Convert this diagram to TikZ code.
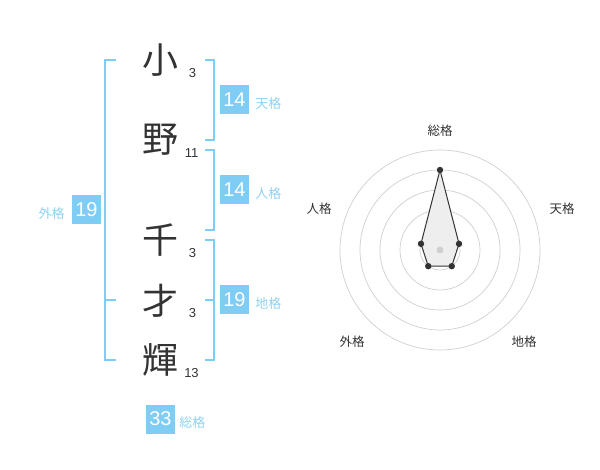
\documentclass[tikz,border=0pt]{standalone}
\usepackage{fontspec}
\setmainfont{Liberation Sans}
\newfontfamily\jpfont{Noto Sans CJK JP}
\usetikzlibrary{positioning}
\definecolor{kakublue}{HTML}{7FCCF5}
\definecolor{kakulabel}{HTML}{8ED2F3}
\definecolor{kanjigray}{HTML}{333333}
\definecolor{ringgray}{HTML}{CFCFCF}
\definecolor{areagray}{HTML}{EEEEEE}

\tikzset{
  kanji/.style={font=\jpfont\fontsize{36}{36}\selectfont, text=kanjigray, inner sep=0pt},
  strokes/.style={font=\fontsize{13}{13}\selectfont, text=kanjigray, inner sep=0pt},
  kakubox/.style={fill=kakublue, text=white, minimum size=29pt, inner sep=0pt, font=\fontsize{20}{20}\selectfont},
  kakuname/.style={font=\jpfont\fontsize{13}{13}\selectfont, text=kakulabel, inner sep=0pt},
  bracket/.style={draw=kakublue, line width=2pt},
  axisname/.style={font=\jpfont\fontsize{12.5}{12.5}\selectfont, text=kanjigray, inner sep=0pt},
}

\begin{document}
\begin{tikzpicture}[x=1pt, y=-1pt]
	\useasboundingbox (0,0) rectangle (600,470);
	% name
	\node[kanji] (ko) at (160,60) {小};
	\node[kanji] (no) at (160,140) {野};
	\node[kanji] (chi) at (160,240) {千};
	\node[kanji] (sai) at (160,301) {才};
	\node[kanji] (ki) at (160,360) {輝};
	\node[strokes] (ko-n) at (192.5,73) {3};
	\node[strokes] (no-n) at (191.5,153) {11};
	\node[strokes] (chi-n) at (192.5,253) {3};
	\node[strokes] (sai-n) at (192.5,313) {3};
	\node[strokes] (ki-n) at (191.5,373) {13};
	% brackets
	\draw[bracket] (205,60) -- (214,60) -- (214,140) -- (205,140);
	\draw[bracket] (205,150) -- (214,150) -- (214,230) -- (205,230);
	\draw[bracket] (205,240) -- (214,240) -- (214,360) -- (205,360);
	\draw[bracket] (205,300) -- (214,300);
	\draw[bracket] (116,60) -- (105,60) -- (105,360) -- (116,360);
	\draw[bracket] (105,300) -- (116,300);
	% scores
	\node[kakubox] (ten) at (234.5,100) {14};
	\node[kakubox] (jin) at (234.5,190) {14};
	\node[kakubox] (chik) at (234.5,300) {19};
	\node[kakubox] (gai) at (86.5,210) {19};
	\node[kakubox] (sou) at (160.5,419) {33};
	\node[kakuname, right=6pt of ten, yshift=-3.5pt] (ten-l) {天格};
	\node[kakuname, right=6pt of jin, yshift=-3.5pt] (jin-l) {人格};
	\node[kakuname, right=6pt of chik, yshift=-3.5pt] (chik-l) {地格};
	\node[kakuname, left=7pt of gai, yshift=-3.5pt] (gai-l) {外格};
	\node[kakuname, right=4pt of sou, yshift=-3.5pt] (sou-l) {総格};
	% radar
	\begin{scope}[shift={(440,250)}]
		\foreach \r in {20,40,60,80,100}
			\draw[ringgray, line width=0.7pt] (0pt,0pt) circle[radius=\r pt];
		\coordinate (p-sou) at (90:80pt);
		\coordinate (p-ten) at (18:20pt);
		\coordinate (p-chi) at (-54:20pt);
		\coordinate (p-gai) at (-126:20pt);
		\coordinate (p-jin) at (162:20pt);
		\draw[kanjigray, fill=areagray, line width=1pt, line join=round] (p-sou) -- (p-ten) -- (p-chi) -- (p-gai) -- (p-jin) -- cycle;
		\fill[ringgray] (0pt,0pt) circle[radius=3.5pt];
		\foreach \p in {sou,ten,chi,gai,jin}
			\fill[kanjigray] (p-\p) circle[radius=3.2pt];
		\node[axisname] (a-sou) at (0pt,119pt) {総格};
		\node[axisname] (a-ten) at (122pt,41pt) {天格};
		\node[axisname] (a-jin) at (-121pt,41pt) {人格};
		\node[axisname] (a-gai) at (-88pt,-92pt) {外格};
		\node[axisname] (a-chi) at (84pt,-92pt) {地格};
	\end{scope}
\end{tikzpicture}
\end{document}
